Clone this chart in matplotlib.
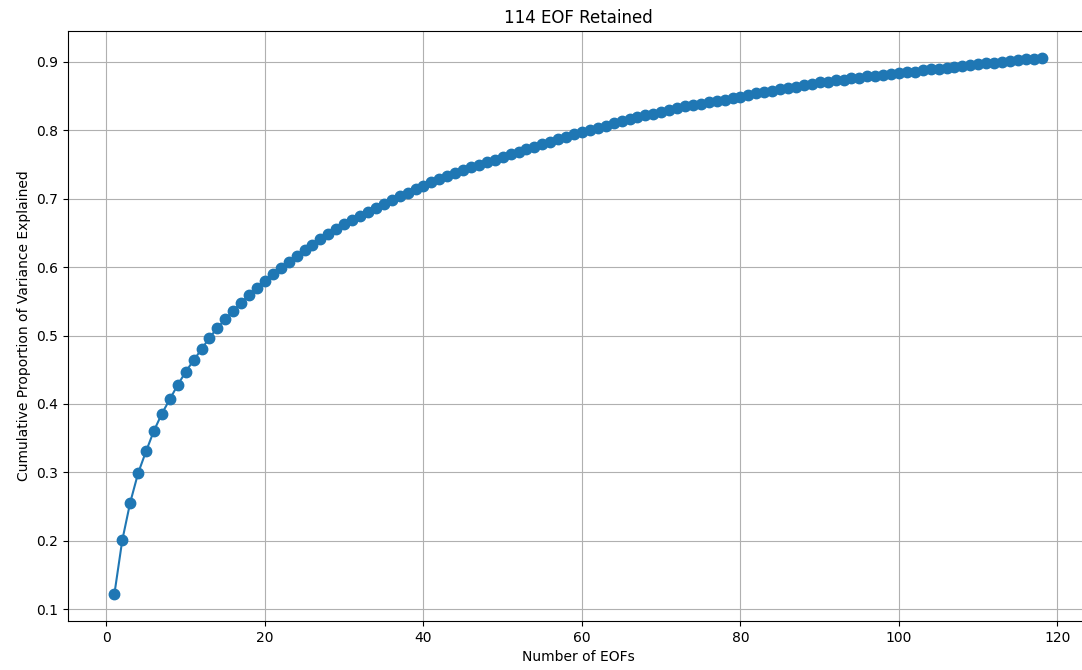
import numpy as np
import matplotlib
matplotlib.use('Agg')
import matplotlib.pyplot as plt

# cumulative proportion of variance explained
n_eofs = np.arange(1, 119)
cum_var = [
    0.122, 0.201, 0.256, 0.299, 0.331, 0.361, 0.386, 0.407, 0.428, 0.447,
    0.464, 0.480, 0.497, 0.511, 0.524, 0.536, 0.548, 0.559, 0.570, 0.580,
    0.590, 0.599, 0.608, 0.617, 0.625, 0.633, 0.641, 0.648, 0.656, 0.663,
    0.669, 0.675, 0.681, 0.687, 0.693, 0.698, 0.704, 0.709, 0.714, 0.719,
    0.724, 0.729, 0.733, 0.738, 0.742, 0.746, 0.750, 0.754, 0.757, 0.761,
    0.765, 0.769, 0.772, 0.776, 0.780, 0.783, 0.787, 0.790, 0.794, 0.797,
    0.800, 0.804, 0.807, 0.810, 0.813, 0.816, 0.819, 0.822, 0.824, 0.827,
    0.830, 0.832, 0.835, 0.837, 0.839, 0.841, 0.843, 0.845, 0.847, 0.849,
    0.851, 0.854, 0.856, 0.858, 0.860, 0.862, 0.864, 0.866, 0.868, 0.870,
    0.871, 0.873, 0.874, 0.876, 0.877, 0.879, 0.880, 0.881, 0.883, 0.884,
    0.885, 0.886, 0.888, 0.889, 0.890, 0.891, 0.893, 0.894, 0.896, 0.897,
    0.898, 0.899, 0.900, 0.902, 0.903, 0.904, 0.905, 0.906,
]
n_retained = 114

W, H = 1082, 670
fig = plt.figure(figsize=(W / 100, H / 100), dpi=100)
# the right edge of the axes runs slightly past the figure in the reference
ax = fig.add_axes([68 / W, (H - 621) / H, (1088 - 68) / W, (621 - 31) / H])
ax.plot(n_eofs, cum_var, marker='o', markersize=7.5)
ax.set_title(f'{n_retained} EOF Retained')
ax.set_xlabel('Number of EOFs')
ax.set_ylabel('Cumulative Proportion of Variance Explained')
ax.grid(True)

plt.savefig('out.png', dpi=100)
